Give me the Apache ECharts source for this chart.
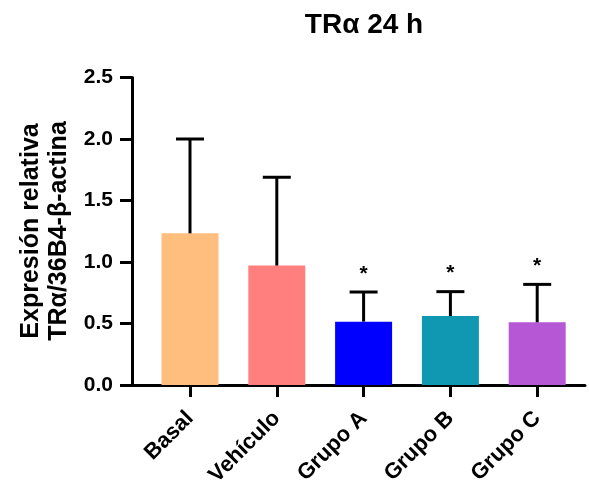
<!DOCTYPE html>
<html><head><meta charset="utf-8">
<script src="https://cdn.jsdelivr.net/npm/echarts@6/dist/echarts.min.js"></script>
<style>html,body{margin:0;padding:0;background:#fff}#c{width:589px;height:487px}</style>
</head><body><div id="c"></div>
<script>
const categories = ['Basal', 'Vehículo', 'Grupo A', 'Grupo B', 'Grupo C'];
const means = [1.233, 0.971, 0.515, 0.561, 0.51];
const errTops = [2.0, 1.689, 0.756, 0.759, 0.818];
const significant = [false, false, true, true, true];
const colors = ['#FFBE7D', '#FF7F7F', '#0000FF', '#1098B2', '#B657D6'];
const yTicks = [0, 0.5, 1.0, 1.5, 2.0, 2.5];
const titleText = 'TRα 24 h';
const yName = 'Expresión relativa\nTRα/36B4-β-actina';

const FONT = '"Liberation Sans", Arial, sans-serif';
const chart = echarts.init(document.getElementById('c'), null, {renderer: 'canvas'});
const gTop = 77.5, gBottom = 102;
chart.setOption({
  animation: false,
  backgroundColor: '#fff',
  grid: [
    {left: 132, right: 4, top: gTop, bottom: gBottom, containLabel: false, outerBoundsMode: 'none'},
    {left: 146.6, right: 8.4, top: gTop, bottom: gBottom, containLabel: false, outerBoundsMode: 'none'}
  ],
  graphic: [
    {type: 'text', x: 364, y: 25, style: {text: titleText, font: 'bold 28px ' + FONT, fill: '#000', align: 'center', verticalAlign: 'middle'}},
    {type: 'text', x: 45, y: 231, rotation: Math.PI / 2, style: {text: yName, font: 'bold 25px ' + FONT, fill: '#000', align: 'center', verticalAlign: 'middle', lineHeight: 28}}
  ],
  xAxis: [
    {type: 'value', gridIndex: 0, min: 0, max: 1, axisLine: {show: true, lineStyle: {color: '#000', width: 3}},
     axisTick: {show: false}, axisLabel: {show: false}, splitLine: {show: false}},
    {type: 'category', gridIndex: 1, data: categories, boundaryGap: true,
     axisLine: {show: true, lineStyle: {color: '#000', width: 3}},
     axisTick: {show: true, alignWithLabel: true, length: 12, lineStyle: {color: '#000', width: 3}},
     axisLabel: {rotate: 45, margin: 30, color: '#000', fontWeight: 'bold', fontSize: 22, fontFamily: FONT, interval: 0}}
  ],
  yAxis: [
    {type: 'value', gridIndex: 0, min: yTicks[0], max: yTicks[yTicks.length - 1], interval: 0.5,
     axisLine: {show: true, lineStyle: {color: '#000', width: 3}},
     axisTick: {show: true, length: 12, lineStyle: {color: '#000', width: 3}},
     axisLabel: {margin: 19, color: '#000', fontWeight: 'bold', fontSize: 21, fontFamily: FONT, formatter: v => v.toFixed(1)},
     splitLine: {show: false}},
    {type: 'value', gridIndex: 1, min: 0, max: 2.5, show: false}
  ],
  series: [
    {type: 'bar', xAxisIndex: 1, yAxisIndex: 1, barWidth: 57,
     data: means.map((v, i) => ({value: v, itemStyle: {color: colors[i]}}))},
    {type: 'custom', xAxisIndex: 1, yAxisIndex: 1, z: 5,
     data: means.map((v, i) => [i, v, errTops[i], significant[i] ? 1 : 0]),
     renderItem: function (params, api) {
       const i = api.value(0);
       const base = api.coord([i, api.value(1)]);
       const topP = api.coord([i, api.value(2)]);
       const half = 14;
       const children = [
         {type: 'line', shape: {x1: base[0], y1: base[1], x2: topP[0], y2: topP[1]}, style: {stroke: '#000', lineWidth: 3}},
         {type: 'line', shape: {x1: topP[0] - half, y1: topP[1], x2: topP[0] + half, y2: topP[1]}, style: {stroke: '#000', lineWidth: 3}}
       ];
       if (api.value(3)) {
         children.push({type: 'text', x: topP[0], y: topP[1] - 18, style: {text: '*', font: 'bold 21px ' + FONT, fill: '#000', align: 'center', verticalAlign: 'middle'}});
       }
       return {type: 'group', children: children};
     }}
  ]
});
</script></body></html>
